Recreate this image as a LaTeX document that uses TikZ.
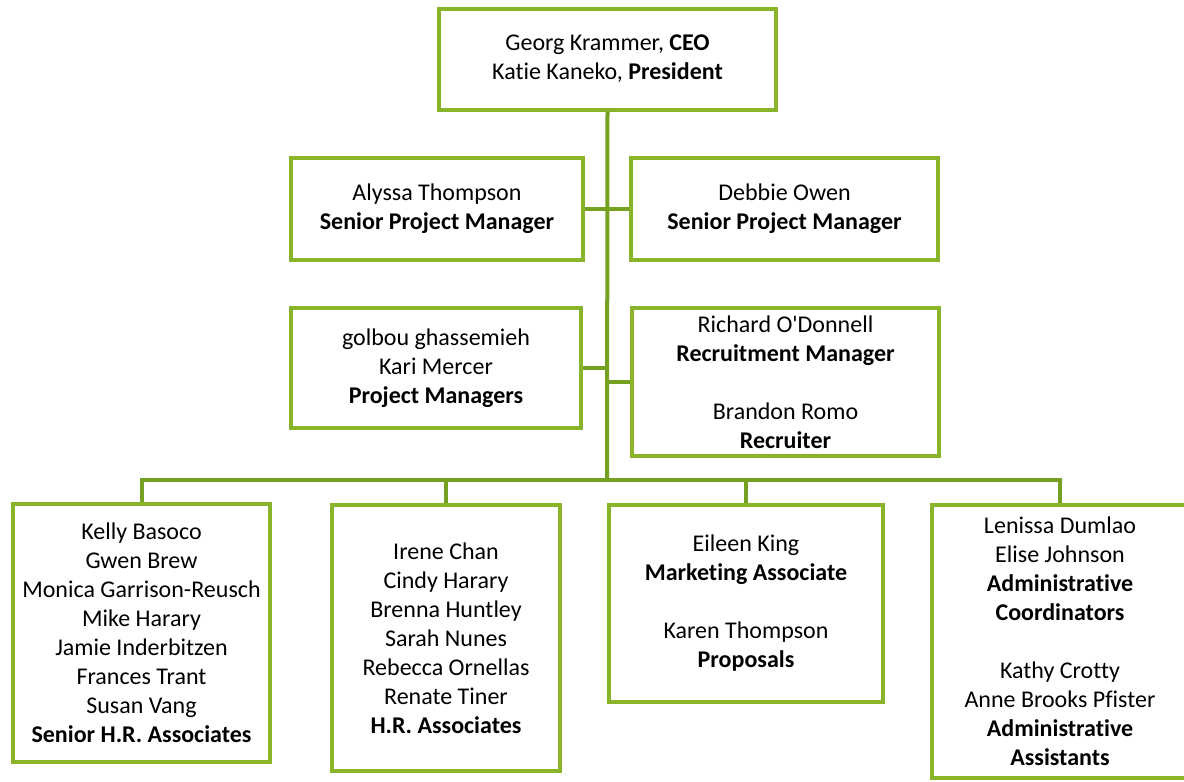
\documentclass[tikz,border=0pt]{standalone}
\usepackage{fontspec}
\setmainfont{Carlito}[Ligatures={NoCommon}]
\usepackage{tikz}
\usetikzlibrary{positioning}

\definecolor{boxgreen}{RGB}{137,180,42}
\definecolor{linkgreen}{RGB}{118,160,32}

\begin{document}
\begin{tikzpicture}[x=1pt, y=-1pt,
		orgbox/.style={rectangle, draw=boxgreen, line width=4pt, fill=white, inner sep=0pt, align=center, font=\fontsize{24}{29}\selectfont},
		link/.style={draw=linkgreen, line width=4pt}]
		\useasboundingbox (0,0) rectangle (1184,782);
		% top
		\node (ceo) [orgbox, minimum width=337pt, minimum height=101pt] at (607.5,59) {Georg Krammer, \textbf{CEO}\\ Katie Kaneko, \textbf{President}};
		% senior project managers
		\node (alyssa) [orgbox, minimum width=292pt, minimum height=102pt] at (437,209) {Alyssa Thompson\\ \textbf{Senior Project Manager}};
		\node (debbie) [orgbox, minimum width=307pt, minimum height=102pt] at (784.5,209) {Debbie Owen\\ \textbf{Senior Project Manager}};
		% project managers, recruiting
		\node (pm) [orgbox, minimum width=290pt, minimum height=120pt] at (436,368) {golbou ghassemieh\\ Kari Mercer\\ \textbf{Project Managers}};
		\node (recruit) [orgbox, minimum width=307pt, minimum height=148pt] at (785.5,382) {Richard O\textquotesingle Donnell\\ \textbf{Recruitment Manager}\\[29pt] Brandon Romo\\ \textbf{Recruiter}};
		% bottom row
		\node (srhr) [orgbox, minimum width=257pt, minimum height=258pt] at (141.5,633) {Kelly Basoco\\ Gwen Brew\\ Monica Garrison-Reusch\\ Mike Harary\\ Jamie Inderbitzen\\ Frances Trant\\ Susan Vang\\ \textbf{Senior H.R. Associates}};
		\node (hr) [orgbox, minimum width=228pt, minimum height=266pt] at (446,638) {Irene Chan\\ Cindy Harary\\ Brenna Huntley\\ Sarah Nunes\\ Rebecca Ornellas\\ Renate Tiner\\ \textbf{H.R. Associates}};
		\node (mkt) [orgbox, minimum width=274pt, minimum height=197pt] at (746,603.5) {Eileen King\\ \textbf{Marketing Associate}\\[29pt] Karen Thompson\\ \textbf{Proposals}};
		\node (admin) [orgbox, minimum width=256pt, minimum height=273pt] at (1060,641.5) {Lenissa Dumlao\\ Elise Johnson\\ \textbf{Administrative}\\ \textbf{Coordinators}\\[29pt] Kathy Crotty\\ Anne Brooks Pfister\\ \textbf{Administrative}\\ \textbf{Assistants}};
		\coordinate (bus) at (607,480);
		% connectors
		\path[link] (ceo.south) -- (bus);
		\path[link] (alyssa.east) -- (debbie.west);
		\path[link] (pm.east) -- (pm.east -| bus);
		\path[link] (recruit.west) -- (recruit.west -| bus);
		\path[link] (srhr.north) |- (bus) -| (admin.north);
		\path[link] (hr.north) -- (hr.north |- bus);
		\path[link] (mkt.north) -- (mkt.north |- bus);
	\end{tikzpicture}
\end{document}
